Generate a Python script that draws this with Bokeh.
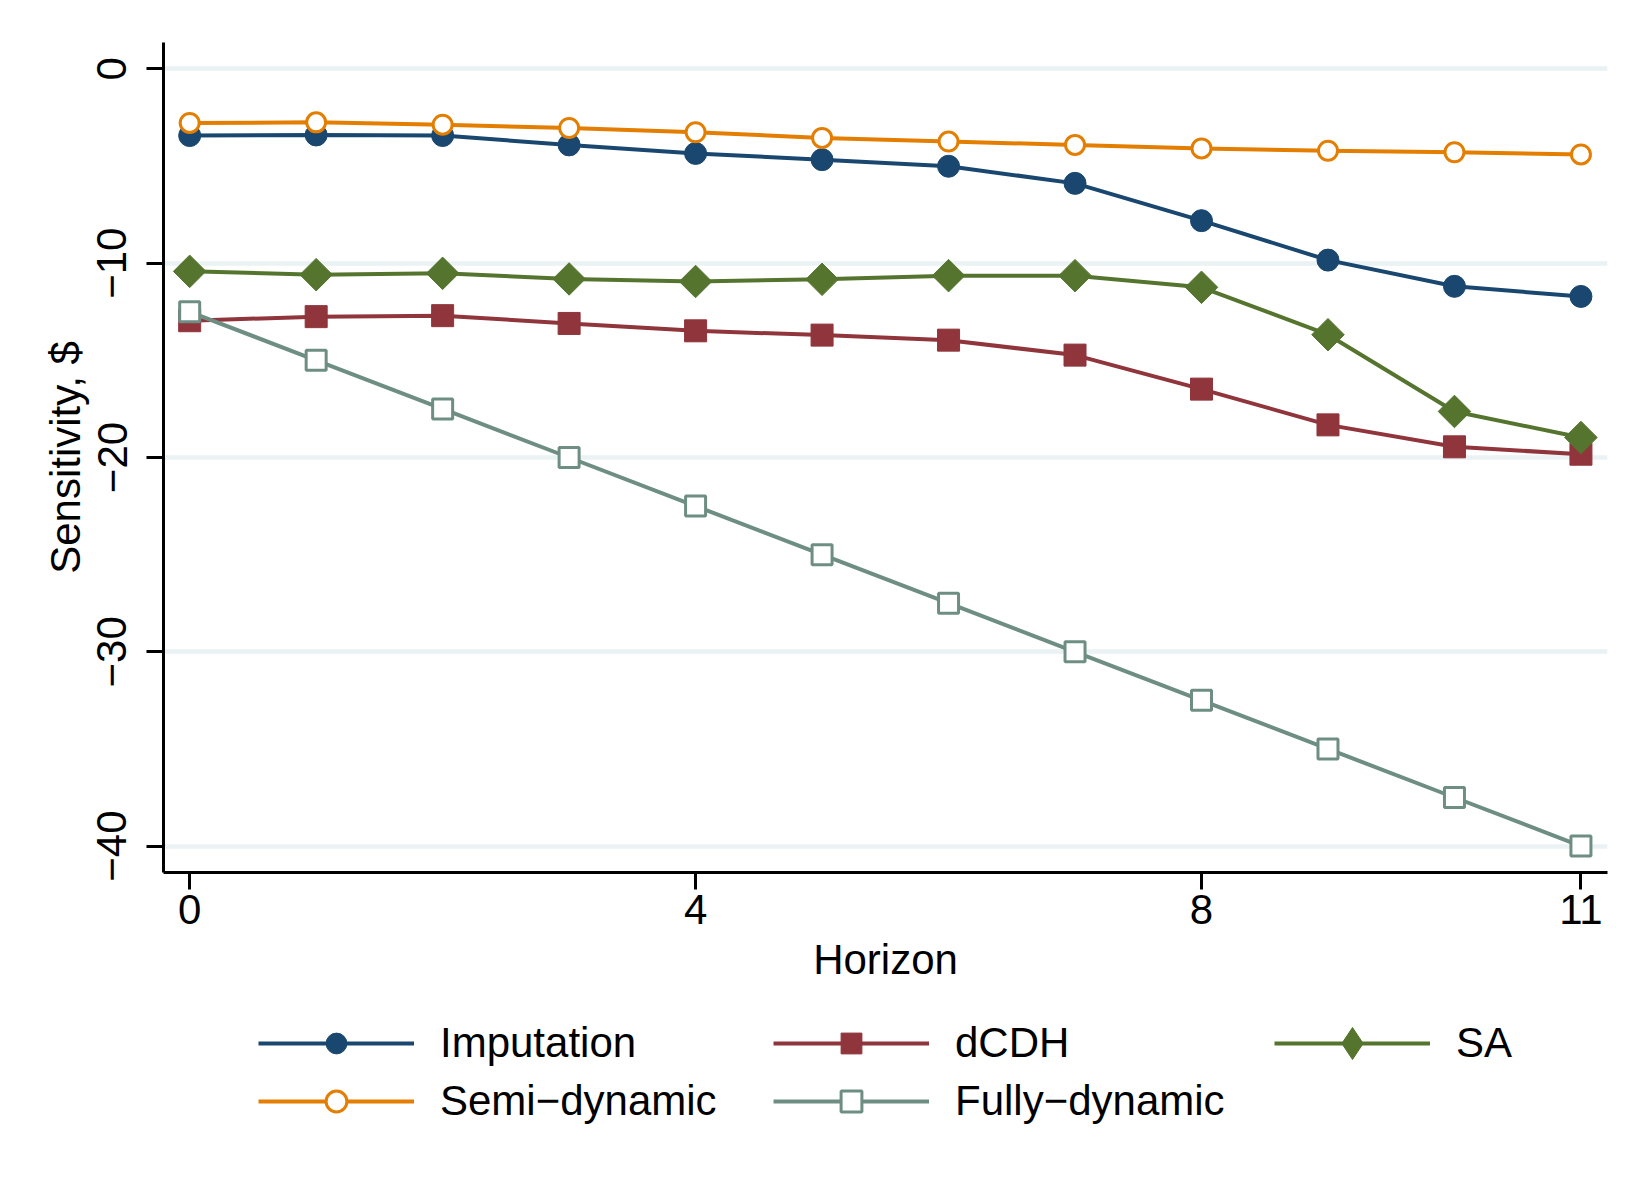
import numpy as np
from bokeh.plotting import figure
from bokeh.layouts import column
from bokeh.models import Range1d, FixedTicker, Legend, LegendItem
from bokeh.embed import file_html
from bokeh.resources import INLINE

# ---- data ----
horizon = [0, 1, 2, 3, 4, 5, 6, 7, 8, 9, 10, 11]
imputation = [-3.43, -3.40, -3.43, -3.91, -4.35, -4.67, -5.01, -5.89, -7.81, -9.84, -11.19, -11.71]
dcdh = [-12.96, -12.75, -12.70, -13.10, -13.48, -13.70, -13.96, -14.73, -16.48, -18.32, -19.45, -19.83]
sa = [-10.42, -10.59, -10.52, -10.81, -10.94, -10.83, -10.64, -10.64, -11.24, -13.68, -17.63, -18.97]
semi_dynamic = [-2.78, -2.75, -2.87, -3.04, -3.26, -3.55, -3.74, -3.91, -4.09, -4.21, -4.29, -4.40]
fully_dynamic = [-12.5, -15.0, -17.5, -20.0, -22.5, -25.0, -27.5, -30.0, -32.5, -35.0, -37.5, -40.0]

x_ticks = [0, 4, 8, 11]
y_ticks = [0, -10, -20, -30, -40]
y_tick_labels = ["0", "\u221210", "\u221220", "\u221230", "\u221240"]

labels = ["Imputation", "dCDH", "SA", "Semi\u2212dynamic", "Fully\u2212dynamic"]

FONT = "Liberation Sans"
FS = "42px"

NAVY = "#1a476f"
MAROON = "#90353b"
GREEN = "#55752f"
ORANGE = "#e37e00"
TEAL = "#6e8e84"

p = figure(frame_width=1444, frame_height=830, output_backend="svg", toolbar_location=None,
           x_range=Range1d(-0.207, 11.21), y_range=Range1d(-41.36, 1.36),
           min_border_left=163, min_border_right=27, min_border_top=42, min_border_bottom=128)
p.outline_line_color = None
p.background_fill_color = "white"
p.border_fill_color = "white"

p.xgrid.visible = False
p.ygrid.grid_line_color = "#eaf2f3"
p.ygrid.grid_line_width = 4.5

for ax in (p.xaxis[0], p.yaxis[0]):
    ax.axis_line_color = "black"
    ax.axis_line_width = 3
    ax.major_tick_line_color = "black"
    ax.major_tick_line_width = 3
    ax.major_tick_in = 0
    ax.major_tick_out = 17
    ax.minor_tick_line_color = None
    ax.major_label_text_font = FONT
    ax.major_label_text_font_size = FS
    ax.major_label_text_color = "black"
    ax.axis_label_text_font = FONT
    ax.axis_label_text_font_size = FS
    ax.axis_label_text_font_style = "normal"
    ax.axis_label_text_color = "black"

p.xaxis.ticker = FixedTicker(ticks=x_ticks)
p.yaxis.ticker = FixedTicker(ticks=y_ticks)
p.yaxis.major_label_overrides = {t: s for t, s in zip(y_ticks, y_tick_labels)}
p.yaxis.major_label_orientation = "vertical"
p.xaxis.axis_label = "Horizon"
p.yaxis.axis_label = "Sensitivity, $"
p.xaxis.major_label_standoff = 5
p.xaxis.axis_label_standoff = 9
p.yaxis.major_label_standoff = 20
p.yaxis.axis_label_standoff = 6

LW = 4

STYLES = [
    dict(color=NAVY, marker="circle", size=22, fill=NAVY, angle=0.0, mlw=1),
    dict(color=MAROON, marker="square", size=22, fill=MAROON, angle=0.0, mlw=1),
    dict(color=GREEN, marker="square", size=23, fill=GREEN, angle=np.pi / 4, mlw=1),
    dict(color=ORANGE, marker="circle", size=19, fill="white", angle=0.0, mlw=3),
    dict(color=TEAL, marker="square", size=20, fill="white", angle=0.0, mlw=3),
]
SERIES = [imputation, dcdh, sa, semi_dynamic, fully_dynamic]

def draw(fig, xs, ys, st, marker=None):
    r_line = fig.line(xs, ys, line_color=st["color"], line_width=LW)
    r_pt = fig.scatter(xs, ys, marker=marker or st["marker"], size=st["size"], angle=st["angle"],
                       fill_color=st["fill"], line_color=st["color"], line_width=st["mlw"])
    return [r_line, r_pt]

for ys, st in zip(SERIES, STYLES):
    draw(p, horizon, ys, st)

# ---- legend strip (separate figure directly below the plot) ----
# same series drawn again; this strip's ranges keep them out of view, only the legend keys show
p2 = figure(width=1634, height=184, output_backend="svg", toolbar_location=None,
            x_axis_type=None, y_axis_type=None, x_range=Range1d(0, 1), y_range=Range1d(0, 1),
            min_border=0)
p2.outline_line_color = None
p2.background_fill_color = "white"
p2.border_fill_color = "white"

legend_markers = [None, None, "diamond", None, None]  # legend keys ignore angle
proxies = [draw(p2, horizon, ys, st, marker=m)
           for ys, st, m in zip(SERIES, STYLES, legend_markers)]

def make_legend(idx, vx, vy, gh=52):
    items = [LegendItem(label=labels[i], renderers=proxies[i]) for i in idx]
    lg = Legend(items=items, location=(vx, vy), orientation="vertical",
                glyph_width=156, glyph_height=gh, label_height=gh,
                label_standoff=26, spacing=6, padding=0, margin=0,
                border_line_color=None, background_fill_alpha=0,
                label_text_font=FONT, label_text_font_size=FS,
                label_text_color="black")
    p2.add_layout(lg, "center")

make_legend([0, 3], 95, 57)
make_legend([1, 4], 610, 57)
make_legend([2], 1111, 101, gh=80)

layout = column(p, p2, spacing=0)
open("out.html", "w").write(file_html(layout, INLINE))
